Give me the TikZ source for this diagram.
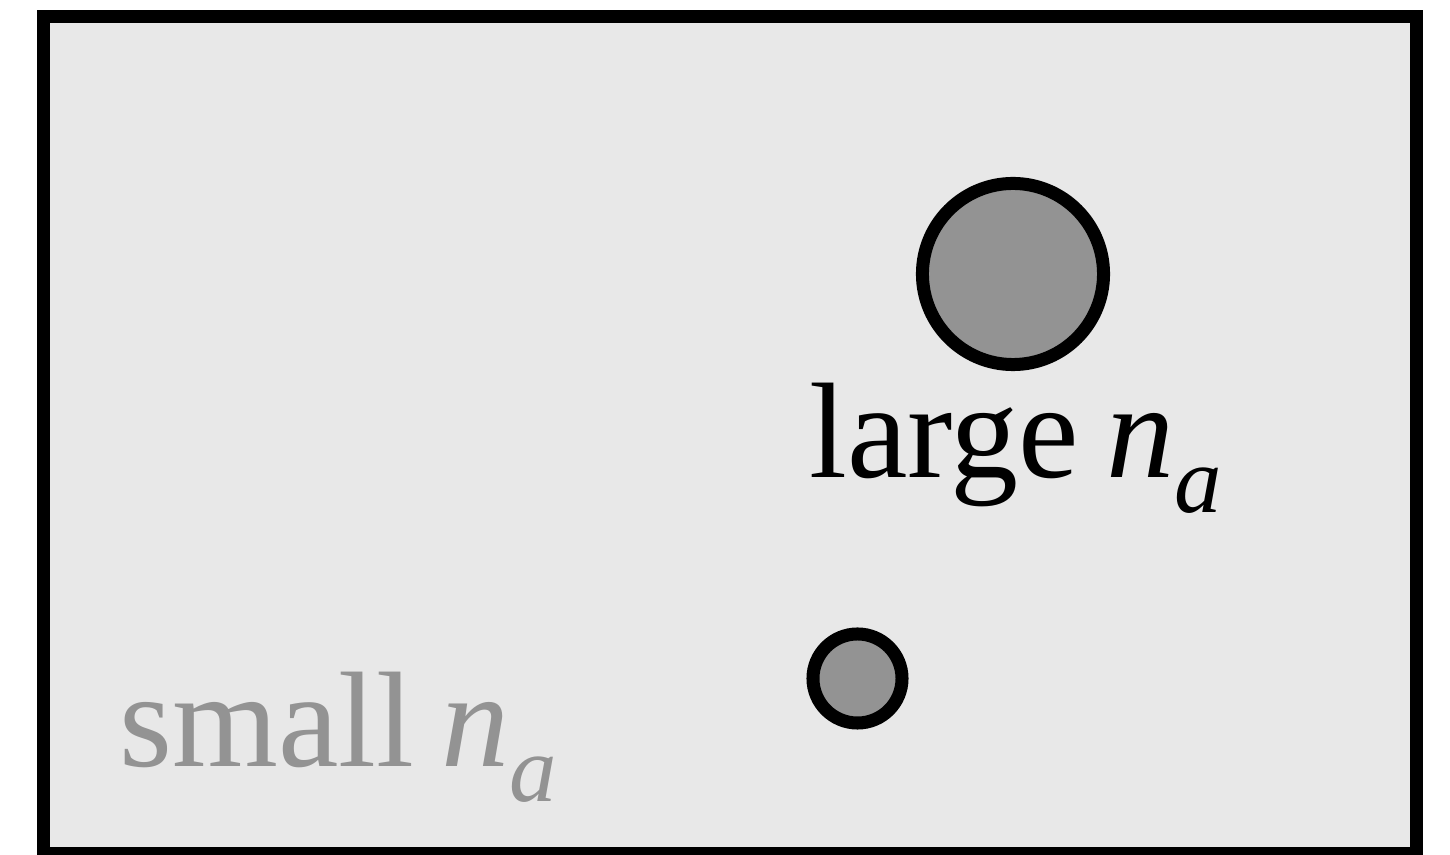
\documentclass[tikz,border=0pt]{standalone}
\usepackage{fontspec}
\setmainfont{Liberation Serif}
\definecolor{boxgray}{gray}{0.91}
\definecolor{dotgray}{gray}{0.576}
\newcommand{\nsub}{\kern-0.05em\textit{n}\raisebox{-0.25em}{\fontsize{27pt}{27pt}\selectfont\textit{a}}}
\begin{document}
\begin{tikzpicture}[x=0.01cm, y=-0.01cm,
        dot/.style={circle, draw=black, fill=dotgray, line width=0.13cm, inner sep=0pt},
        lbl/.style={anchor=base west, inner sep=0pt, font=\fontsize{38.7pt}{46pt}\selectfont}]
            \useasboundingbox (0,0) rectangle (1450,855);

            \draw[line width=0.13cm, fill=boxgray] (43.5,16.5) rectangle (1416.5,853.5);

            \node[dot, minimum size=1.81cm] (big) at (1013,274) {};
            \node[dot, minimum size=0.89cm] (small) at (857.5,678.5) {};

            \node[lbl] (largelbl) at (809,478) {large \nsub};
            \node[lbl, text=dotgray] (smalllbl) at (119,767) {small \nsub};

        \end{tikzpicture}
\end{document}
